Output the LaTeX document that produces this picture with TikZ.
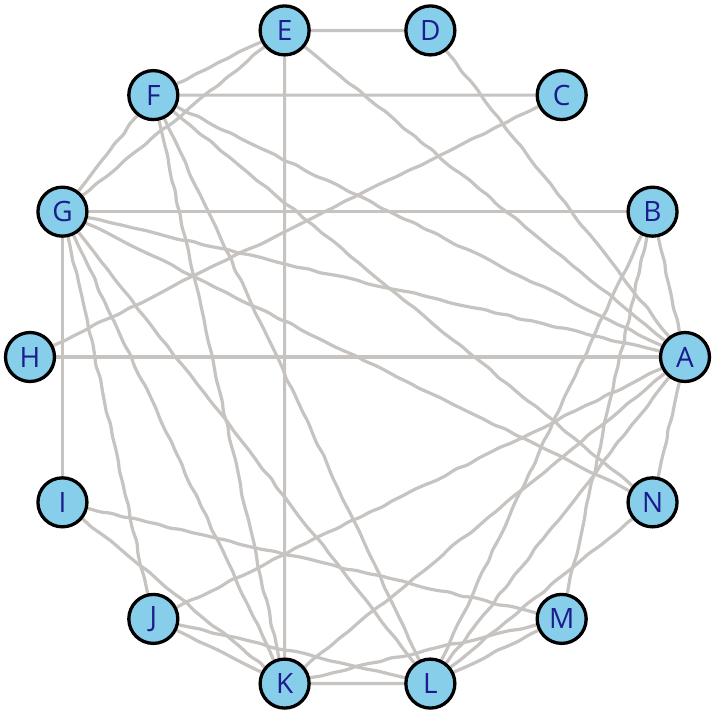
\documentclass[tikz,border=0pt]{standalone}
\usepackage{fontspec}
\setmainfont{Open Sans}
\usetikzlibrary{backgrounds,decorations.pathmorphing}
\definecolor{vfill}{RGB}{135,206,235}
\definecolor{vtext}{RGB}{28,28,140}
\definecolor{edgegray}{RGB}{198,195,193}
\tikzset{
  vtx/.style={circle, draw=black, line width=3.3pt, fill=vfill, minimum size=49pt, inner sep=0pt, text=vtext, font=\fontsize{28}{28}\selectfont},
  flat/.style={draw=edgegray, line width=3.2pt},
  edge/.style={flat, line join=round, rounded corners=2pt,
    decorate, decoration={random steps, segment length=12pt, amplitude=1pt}},
}
\begin{document}
\begin{tikzpicture}[x=1pt, y=-1pt]
\useasboundingbox (0,0) rectangle (713,713);
\foreach \n [count=\k from 0] in {A,B,C,D,E,F,G,H,I,J,K,L,M,N}
  \node[vtx] (\n) at ({357.5+327.5*cos(\k*360/14)}, {357-335*sin(\k*360/14)}) {\n};
\begin{pgfonlayer}{background}
\foreach \u/\v in {A/H, B/G, C/F, D/E, E/K, G/I, K/L}
  \draw[flat] (\u) -- (\v);
\foreach \u/\v in {A/B, A/D, A/E, A/F, A/G, A/J, A/K, A/L, A/N,
  B/L, B/M, C/H, E/F, E/G, F/G, F/N, F/K, F/L,
  G/N, G/J, G/K, G/L, I/M, I/K, J/K, J/L, K/M, L/M, L/N}
  \draw[edge] (\u) -- (\v);
\end{pgfonlayer}
\end{tikzpicture}
\end{document}
